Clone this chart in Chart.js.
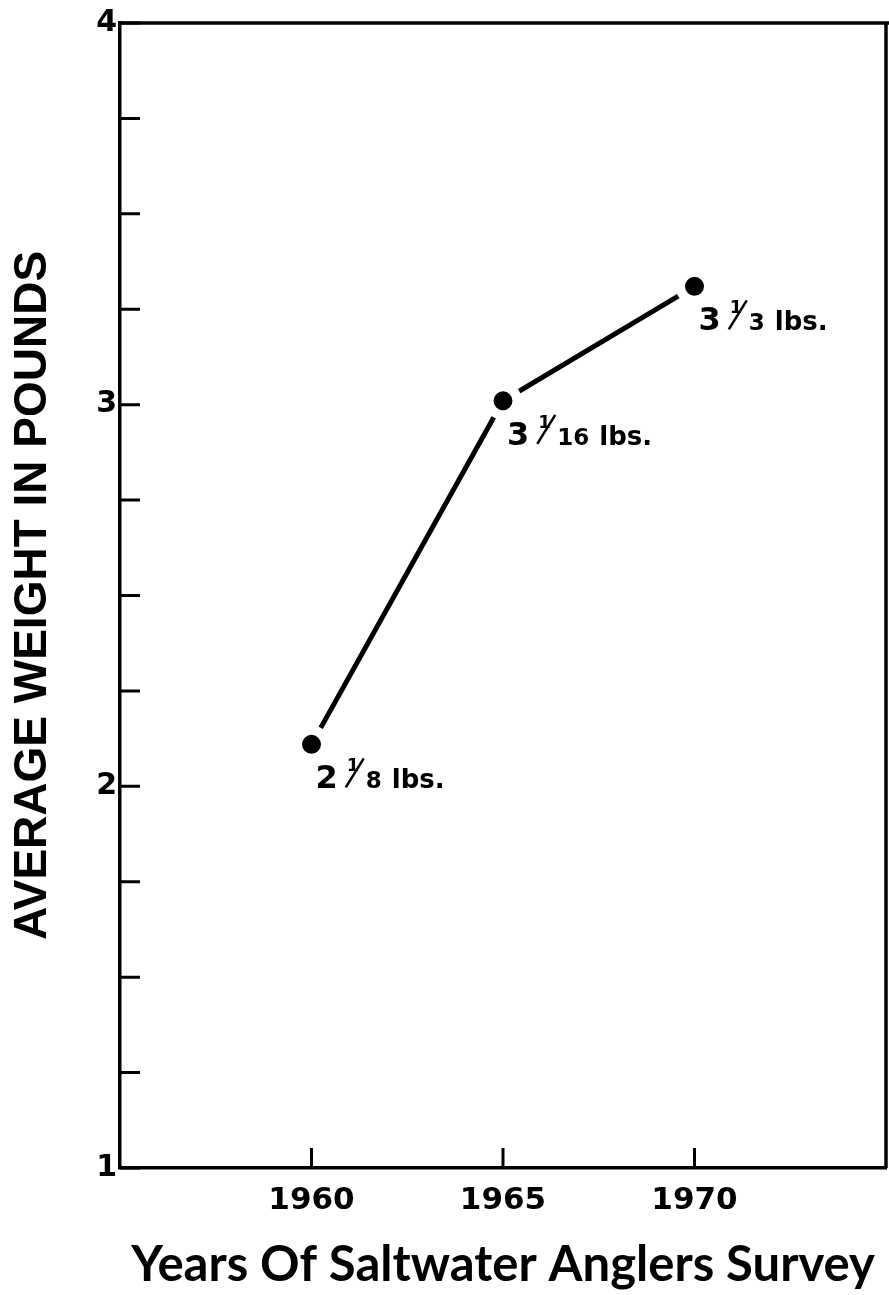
<!DOCTYPE html>
<html lang="en">
<head>
  <meta charset="UTF-8">
  <title>Average Weight - Saltwater Anglers Survey</title>
  <script src="https://cdn.jsdelivr.net/npm/chart.js"></script>
  <style>
    html, body { margin: 0; padding: 0; background: #fff; }
    #wrap { width: 889px; height: 1295px; }
  </style>
</head>
<body>
<div id="wrap"><canvas id="weightChart"></canvas></div>

<script>
// survey years and average weight (lbs)
const years = [1960, 1965, 1970];
const weights = [2.11, 3.01, 3.31];

// point labels: whole + fraction + unit
const labelWhole = ['2', '3', '3'];
const labelNum = ['1', '1', '1'];
const labelDen = ['8', '16', '3'];
const labelUnit = 'lbs.';

const yTickLabels = [1, 2, 3, 4];
const xTickLabels = [1960, 1965, 1970];

const INK = '#000';
const NUMFONT = '"DejaVu Sans"';

// frame on top/right + inward tick marks + fraction labels
const decor = {
  id: 'decor',
  afterDatasetsDraw(chart) {
    const ctx = chart.ctx;
    const a = chart.chartArea;
    const xs = chart.scales.x, ys = chart.scales.y;
    ctx.save();
    ctx.strokeStyle = INK;
    ctx.lineCap = 'butt';

    ctx.lineWidth = 3.5;
    ctx.beginPath();
    ctx.moveTo(a.left, a.top);
    ctx.lineTo(889, a.top);
    ctx.moveTo(a.right, a.top);
    ctx.lineTo(a.right, a.bottom);
    ctx.stroke();

    ctx.lineWidth = 3;
    ctx.beginPath();
    ys.ticks.forEach(t => {
      const py = ys.getPixelForValue(t.value);
      ctx.moveTo(a.left, py);
      ctx.lineTo(a.left + 20, py);
    });
    xTickLabels.forEach(v => {
      const px = xs.getPixelForValue(v);
      ctx.moveTo(px, a.bottom);
      ctx.lineTo(px, a.bottom - 20);
    });
    ctx.stroke();

    // fraction labels under each point
    ctx.fillStyle = INK;
    ctx.textBaseline = 'alphabetic';
    ctx.textAlign = 'left';
    years.forEach((yr, i) => {
      let x = xs.getPixelForValue(yr) + 4;
      const y = ys.getPixelForValue(weights[i]) + 44;
      ctx.font = 'bold 32px ' + NUMFONT;
      ctx.fillText(labelWhole[i], x, y);
      x += ctx.measureText(labelWhole[i]).width + 9;
      ctx.font = 'bold 18px ' + NUMFONT;
      ctx.fillText(labelNum[i], x, y - 17);
      ctx.lineWidth = 2.5;
      ctx.beginPath();
      ctx.moveTo(x - 1, y - 1);
      ctx.lineTo(x + 17, y - 30);
      ctx.stroke();
      x += 19;
      ctx.font = 'bold 23px ' + NUMFONT;
      ctx.fillText(labelDen[i], x, y);
      x += ctx.measureText(labelDen[i]).width + 10;
      ctx.font = 'bold 26px ' + NUMFONT;
      ctx.fillText(labelUnit, x, y);
    });
    ctx.restore();
  }
};

new Chart(document.getElementById('weightChart'), {
  type: 'line',
  data: {
    datasets: [{
      data: years.map((yr, i) => ({ x: yr, y: weights[i] })),
      borderColor: INK,
      borderWidth: 5,
      tension: 0,
      fill: false,
      pointRadius: 14.25,
      pointBorderWidth: 9.5,
      pointBackgroundColor: INK,
      pointBorderColor: '#fff'
    }]
  },
  options: {
    responsive: true,
    maintainAspectRatio: false,
    animation: false,
    events: [],
    layout: { autoPadding: false, padding: { top: 23, right: 3, left: 0, bottom: 0 } },
    plugins: {
      legend: { display: false },
      tooltip: { enabled: false }
    },
    scales: {
      x: {
        type: 'linear',
        min: 1955,
        max: 1975,
        afterFit: s => { s.height = 127; s.paddingLeft = 0; s.paddingRight = 0; },
        afterBuildTicks: s => { s.ticks = xTickLabels.map(v => ({ value: v })); },
        grid: { display: false, drawTicks: false },
        border: { display: true, color: INK, width: 3.5 },
        ticks: {
          color: INK,
          padding: 14,
          maxRotation: 0,
          font: { family: 'DejaVu Sans', size: 31, weight: 'bold' },
          callback: v => String(v)
        },
        title: {
          display: true,
          text: 'Years Of Saltwater Anglers Survey',
          color: INK,
          padding: { top: 0, bottom: 0 },
          font: { family: 'Lato', size: 49, weight: 'bold' }
        }
      },
      y: {
        min: 1,
        max: 4,
        afterFit: s => { s.width = 120; },
        grid: { display: false, drawTicks: false },
        border: { display: true, color: INK, width: 3.5 },
        ticks: {
          stepSize: 0.25,
          color: INK,
          padding: 3,
          font: { family: 'DejaVu Sans', size: 30, weight: 'bold' },
          callback: v => yTickLabels.includes(v) ? String(v) : ''
        },
        title: {
          display: true,
          text: 'AVERAGE WEIGHT IN POUNDS',
          color: INK,
          padding: { top: 6, bottom: 0 },
          font: { family: 'Liberation Sans', size: 46, weight: 'bold' }
        }
      }
    }
  },
  plugins: [decor]
});
</script>
</body>
</html>
